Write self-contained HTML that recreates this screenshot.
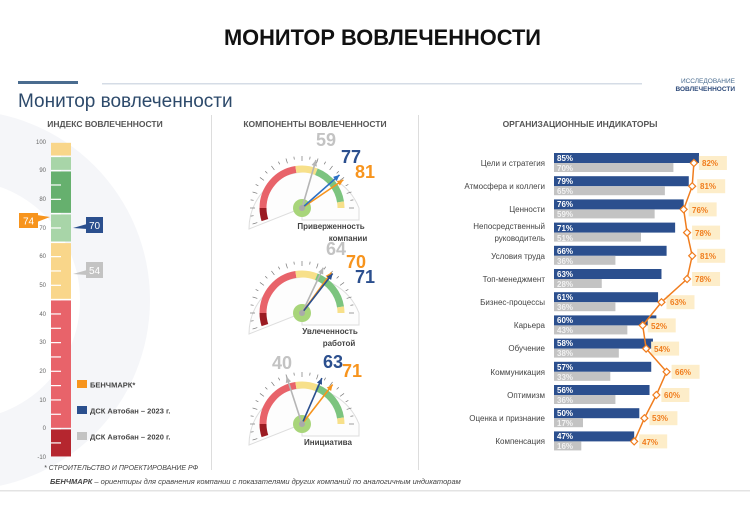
<!DOCTYPE html>
<html><head><meta charset="utf-8"><style>
body{margin:0;background:#fff;}
svg{display:block;font-family:"Liberation Sans","Noto Sans CJK SC",sans-serif;}
</style></head><body>
<svg id="s" width="750" height="520" viewBox="0 0 750 520" xmlns="http://www.w3.org/2000/svg">
<rect width="750" height="520" fill="#fff"/>
<circle cx="-40" cy="300" r="190" fill="#f5f6f9"/>
<circle cx="-40" cy="300" r="120" fill="#fff"/>
<text x="224" y="45" textLength="317" lengthAdjust="spacingAndGlyphs" font-size="22" font-weight="bold" fill="#111">МОНИТОР ВОВЛЕЧЕННОСТИ</text>
<rect x="18" y="81" width="60" height="3" fill="#4a6c8f"/>
<rect x="102" y="83" width="540" height="1.5" fill="#d5dce6"/>
<text x="735" y="83" text-anchor="end" font-size="6.5" fill="#4a6c8f">ИССЛЕДОВАНИЕ</text>
<text x="735" y="91" text-anchor="end" font-size="6.5" font-weight="bold" fill="#2d4a7a">ВОВЛЕЧЕННОСТИ</text>
<text x="18" y="107" font-size="19" fill="#2d4a6b">Монитор вовлеченности</text>
<text x="105" y="127" text-anchor="middle" font-size="8.5" font-weight="bold" fill="#555">ИНДЕКС ВОВЛЕЧЕННОСТИ</text>
<text x="315" y="127" text-anchor="middle" font-size="8.5" font-weight="bold" fill="#555">КОМПОНЕНТЫ ВОВЛЕЧЕННОСТИ</text>
<text x="580" y="127" text-anchor="middle" font-size="8.5" font-weight="bold" fill="#555">ОРГАНИЗАЦИОННЫЕ ИНДИКАТОРЫ</text>
<rect x="211" y="115" width="1" height="355" fill="#ddd"/>
<rect x="418" y="115" width="1" height="355" fill="#ddd"/>
<rect x="0" y="490" width="750" height="1.5" fill="#e3e3e3"/>
<g id="therm"></g>
<g font-size="6" fill="#666" text-anchor="end">
<text x="46" y="144">100</text><text x="46" y="172">90</text><text x="46" y="201">80</text><text x="46" y="230">70</text><text x="46" y="258">60</text><text x="46" y="287">50</text><text x="46" y="316">40</text><text x="46" y="344">30</text><text x="46" y="373">20</text><text x="46" y="402">10</text><text x="46" y="430">0</text><text x="46" y="459">-10</text>
</g>
<path d="M37 215 L50 217 L37 222Z" fill="#f7941d"/>
<rect x="19" y="213" width="19" height="15" fill="#f7941d"/>
<text x="28.5" y="224.5" text-anchor="middle" font-size="10" fill="#fff">74</text>
<path d="M87 224 L73 228 L87 229Z" fill="#2b4f8e"/>
<rect x="86" y="217" width="17" height="16" fill="#2b4f8e"/>
<text x="94.5" y="229" text-anchor="middle" font-size="10" fill="#fff">70</text>
<path d="M87 270 L73 274 L87 275Z" fill="#c3c3c3"/>
<rect x="86" y="262" width="17" height="16" fill="#c3c3c3"/>
<text x="94.5" y="274" text-anchor="middle" font-size="10" fill="#fff">54</text>
<rect x="77" y="380" width="10" height="8" fill="#f7941d"/>
<text x="90" y="387.5" font-size="7.5" font-weight="bold" fill="#444">БЕНЧМАРК*</text>
<rect x="77" y="406" width="10" height="8" fill="#2b4f8e"/>
<text x="90" y="413.5" font-size="7.5" font-weight="bold" fill="#444">ДСК Автобан – 2023 г.</text>
<rect x="77" y="432" width="10" height="8" fill="#c3c3c3"/>
<text x="90" y="439.5" font-size="7.5" font-weight="bold" fill="#444">ДСК Автобан – 2020 г.</text>
<text x="44" y="470" font-size="7" font-style="italic" fill="#444">* СТРОИТЕЛЬСТВО И ПРОЕКТИРОВАНИЕ РФ</text>
<text x="50" y="484" font-size="7.5" font-style="italic" fill="#444"><tspan font-weight="bold">БЕНЧМАРК</tspan> – ориентиры для сравнения компании с показателями других компаний по аналогичным индикаторам</text>
<g id="gauges"></g>
<g font-weight="bold">
<text x="316" y="146" font-size="18" fill="#c3c3c3">59</text>
<text x="341" y="163" font-size="18" fill="#2b4f8e">77</text>
<text x="355" y="178" font-size="18" fill="#f7941d">81</text>
<text x="326" y="255" font-size="18" fill="#c3c3c3">64</text>
<text x="346" y="268" font-size="18" fill="#f7941d">70</text>
<text x="355" y="283" font-size="18" fill="#2b4f8e">71</text>
<text x="272" y="369" font-size="18" fill="#c3c3c3">40</text>
<text x="323" y="368" font-size="18" fill="#2b4f8e">63</text>
<text x="342" y="377" font-size="18" fill="#f7941d">71</text>
<g font-size="8" fill="#444" text-anchor="middle">
<text x="331" y="229">Приверженность</text><text x="348" y="241">компании</text>
<text x="330" y="334">Увлеченность</text><text x="339" y="346">работой</text>
<text x="328" y="445">Инициатива</text>
</g></g>
<g id="bars"></g>
<g font-size="8" fill="#444" text-anchor="end">
<text x="545" y="166">Цели и стратегия</text>
<text x="545" y="189">Атмосфера и коллеги</text>
<text x="545" y="212">Ценности</text>
<text x="545" y="229">Непосредственный</text><text x="545" y="241">руководитель</text>
<text x="545" y="259">Условия труда</text>
<text x="545" y="282">Топ-менеджмент</text>
<text x="545" y="305">Бизнес-процессы</text>
<text x="545" y="328">Карьера</text>
<text x="545" y="351">Обучение</text>
<text x="545" y="375">Коммуникация</text>
<text x="545" y="398">Оптимизм</text>
<text x="545" y="421">Оценка и признание</text>
<text x="545" y="444">Компенсация</text>
</g>
<g font-size="8" font-weight="bold">
<g fill="#fff">
<text x="557" y="161">85%</text><text x="557" y="184">79%</text><text x="557" y="207">76%</text><text x="557" y="231">71%</text><text x="557" y="254">66%</text><text x="557" y="277">63%</text><text x="557" y="300">61%</text><text x="557" y="323">60%</text><text x="557" y="346">58%</text><text x="557" y="370">57%</text><text x="557" y="393">56%</text><text x="557" y="416">50%</text><text x="557" y="439">47%</text>
</g>
<g fill="#f2f2f2">
<text x="557" y="171">70%</text><text x="557" y="194">65%</text><text x="557" y="217">59%</text><text x="557" y="241">51%</text><text x="557" y="264">36%</text><text x="557" y="287">28%</text><text x="557" y="310">36%</text><text x="557" y="333">43%</text><text x="557" y="356">38%</text><text x="557" y="380">33%</text><text x="557" y="403">36%</text><text x="557" y="426">17%</text><text x="557" y="449">16%</text>
</g></g>
<g id="orange"></g>
<g font-size="8" font-weight="bold" fill="#f07d1e">
<text x="702" y="166">82%</text><text x="700" y="189">81%</text><text x="692" y="213">76%</text><text x="695" y="236">78%</text><text x="700" y="259">81%</text><text x="695" y="282">78%</text><text x="670" y="305">63%</text><text x="651" y="329">52%</text><text x="654" y="352">54%</text><text x="675" y="375">66%</text><text x="664" y="398">60%</text><text x="652" y="421">53%</text><text x="642" y="445">47%</text>
</g>
<script>
const NS="http://www.w3.org/2000/svg";
function el(p,t,a){const e=document.createElementNS(NS,t);for(const k in a)e.setAttribute(k,a[k]);p.appendChild(e);return e;}
const th=document.getElementById('therm');
const Y=v=>142+(100-v)*2.866;
const segs=[[100,95,'#f9d68a'],[95,90,'#a8d5a8'],[90,75,'#66b06e'],[75,65,'#a8d5a8'],[65,45,'#f9d68a'],[45,0,'#e8636a'],[0,-10,'#b5262f']];
segs.forEach(s=>el(th,'rect',{x:51,y:Y(s[0])+0.8,width:20,height:Y(s[1])-Y(s[0])-1.6,fill:s[2]}));
for(let v=-5;v<100;v+=5){el(th,'rect',{x:51,y:Y(v)-0.6,width:10,height:1.2,fill:'#fff'});}
const G=document.getElementById('gauges');
function pt(cx,cy,r,v){const a=(180-v*1.8)*Math.PI/180;return [cx+r*Math.cos(a),cy-r*Math.sin(a)];}
function arc(g,cx,cy,r,v1,v2,col,w){const p1=pt(cx,cy,r,v1),p2=pt(cx,cy,r,v2);el(g,'path',{d:`M${p1[0]} ${p1[1]} A${r} ${r} 0 0 1 ${p2[0]} ${p2[1]}`,stroke:col,'stroke-width':w,fill:'none'});}
function gauge(cx,cy,vals){
 const g=el(G,'g',{});
 const p1=pt(cx,cy,57,-12),p2=pt(cx,cy,57,100);
 el(g,'path',{d:`M${cx} ${cy} L${p1[0]} ${p1[1]} A57 57 0 0 1 ${p2[0]} ${p2[1]} L${cx+57} ${cy+12} L${cx} ${cy+12}Z`,fill:'#fdfdfd',stroke:'#ddd','stroke-width':1});
 arc(g,cx,cy,39,-10,0,'#9b1b22',7);arc(g,cx,cy,39,0,45,'#e8636a',7);arc(g,cx,cy,39,45,62,'#f7e08a',7);arc(g,cx,cy,39,62,95,'#7cc47f',7);arc(g,cx,cy,39,95,100,'#f7e08a',7);
 for(let v=-10;v<=100;v+=5){const a=pt(cx,cy,v%10==0?47:49,v),b=pt(cx,cy,52,v);el(g,'line',{x1:a[0],y1:a[1],x2:b[0],y2:b[1],stroke:'#777','stroke-width':0.7});}
 el(g,'circle',{cx:cx,cy:cy,r:9,fill:'#a8d57a'});
 vals.forEach(([v,c])=>{const t=pt(cx,cy,50,v);el(g,'line',{x1:cx,y1:cy,x2:t[0],y2:t[1],stroke:c,'stroke-width':1.6});
  const b1=pt(cx,cy,44,v-2),b2=pt(cx,cy,44,v+2);el(g,'path',{d:`M${t[0]} ${t[1]} L${b1[0]} ${b1[1]} L${b2[0]} ${b2[1]}Z`,fill:c});});
 el(g,'circle',{cx:cx,cy:cy,r:3,fill:'#aaa'});
}
gauge(302,208,[[59,'#b5b5b5'],[81,'#f7941d'],[77,'#2b6fc4']]);
gauge(302,313,[[64,'#b5b5b5'],[70,'#f7941d'],[71,'#2b4f8e']]);
gauge(302,424,[[40,'#b5b5b5'],[71,'#f7941d'],[63,'#2b4f8e']]);
const B=document.getElementById('bars');
const blue=[85,79,76,71,66,63,61,60,58,57,56,50,47],gray=[70,65,59,51,36,28,36,43,38,33,36,17,16],org=[82,81,76,78,81,78,63,52,54,66,60,53,47];
const k=1.706;
blue.forEach((v,i)=>{const y=153+i*23.2;el(B,'rect',{x:554,y:y,width:v*k,height:10,fill:'#2b4f8e'});el(B,'rect',{x:554,y:y+10,width:gray[i]*k,height:9,fill:'#c3c3c3'});});
const O=document.getElementById('orange');
const pts=org.map((v,i)=>[554+v*k,163+i*23.2]);
pts.forEach(p=>{el(O,'rect',{x:p[0]+5,y:p[1]-7,width:28,height:14,fill:'#fdedc9'});});
el(O,'path',{d:pts.map((p,i)=>(i?'L':'M')+p[0]+' '+p[1]).join(' '),stroke:'#f07d1e','stroke-width':1.5,fill:'none'});
pts.forEach(p=>el(O,'path',{d:`M${p[0]-3.5} ${p[1]} L${p[0]} ${p[1]-3.5} L${p[0]+3.5} ${p[1]} L${p[0]} ${p[1]+3.5}Z`,fill:'#fff',stroke:'#f07d1e','stroke-width':1.2}));
</script>
</svg>
</body></html>
